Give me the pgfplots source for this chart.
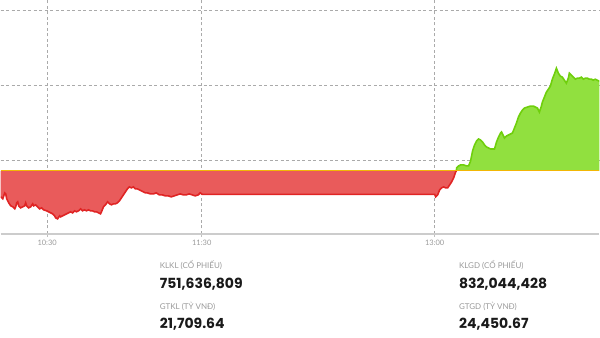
\documentclass[border=0pt]{standalone}
\usepackage{fontspec}
\setmainfont{Lato}
\newfontfamily\pop{Poppins}
\newfontfamily\lato{Lato}
\usepackage{pgfplots}
\pgfplotsset{compat=1.18}
\usepgfplotslibrary{fillbetween}
\definecolor{redfill}{HTML}{E95B5B}
\definecolor{redline}{HTML}{E02424}
\definecolor{greenfill}{HTML}{91E03F}
\definecolor{greenline}{HTML}{6FCF0C}
\definecolor{refline}{HTML}{F2B705}
\definecolor{gridc}{HTML}{AAAAAA}
\definecolor{labc}{HTML}{9A9A9A}
\definecolor{numc}{HTML}{1A1A1A}
\begin{document}
\begin{tikzpicture}
\begin{axis}[
  at={(0pt,0pt)}, anchor=south west,
  scale only axis, width=600pt, height=234pt,
  xmin=0, xmax=600, ymin=0, ymax=234,
  axis x line*=bottom, axis y line*=left,
  x axis line style={draw=black!20, line width=1.5pt},
  y axis line style={draw=none},
  xtick={46.5,201.5,435}, xticklabels={10:30,11:30,13:00},
  ytick={74,149,224}, yticklabels={},
  y tick style={draw=none},
  yticklabel style={overlay},
  xmajorgrids, ymajorgrids,
  major grid style={gridc, dash pattern=on 3pt off 2.5pt, line width=0.7pt},
  xtick align=outside, ytick align=inside, major tick length=3pt,
  x tick style={draw=black!25, line width=0.8pt},
  xticklabel style={font=\lato\fontsize{7.5}{9}\selectfont, text=labc},
]
\addplot[draw=redline, line width=1.6pt, name path=redl] coordinates {
(0,37) (2,35) (4,41) (5,40) (6,35) (8,31) (10,28) (12,27) (14,25) (15,27)
(16,31) (17,32) (18,28) (20,26) (22,27) (24,28) (25,31) (26,28) (28,26) (30,27)
(32,30) (33,28) (35,29) (37,27) (39,25) (41,26) (43,24) (46,23) (48,22) (50,21)
(52,20) (54,18) (55,16) (57,15) (59,18) (60,17) (62,18) (64,19) (66,20) (68,21)
(70,22) (72,21) (74,23) (76,22) (78,23) (80,25) (82,23) (84,24) (86,23) (88,24)
(90,23) (92,23) (94,22) (96,22) (98,21) (100,20) (101,22) (103,27) (105,29) (107,32)
(109,30) (111,29) (113,30) (115,30) (117,31) (119,33) (121,36) (123,39) (125,42) (127,45)
(129,47) (131,46) (133,47) (135,45) (137,45) (139,44) (141,43) (143,42) (145,41) (147,41)
(150,40) (153,40) (156,41) (159,39) (162,39) (165,38) (168,38) (171,37) (174,38) (177,39)
(180,40) (183,39) (186,39) (189,40) (192,39) (195,38) (198,39) (200,41) (202,39.5) (435,39.5)
(436,37) (438,39) (440,44) (442,46) (444,47) (446,46) (448,46) (450,49) (452,52) (454,56)
(456,62) (456.8,63)
};
\addplot[draw=none, name path=refa] coordinates {(0,63) (456.8,63)};
\addplot[draw=greenline, line width=1.6pt, name path=greenl] coordinates {
(456.8,63) (457,66) (459,68) (461,69) (464,69) (467,68) (469,68) (471,73) (473,83) (475,89)
(477,93) (479,95) (481,94) (483,92) (485,89) (487,87) (489,86) (491,85) (493,85) (495,85)
(497,92) (499,97) (501,101) (502,102) (504,98) (505,96) (507,98) (509,99) (511,100) (513,101)
(515,106) (517,111) (519,117) (521,121) (523,124) (525,126) (528,127) (531,128) (534,128) (536,127)
(538,126) (540,122) (542,128) (543,132) (545,137) (547,142) (549,145) (551,148) (553,155) (555,160)
(557,166) (559,161) (561,158) (563,157) (565,154) (567,151) (569,156) (570,161) (572,159) (574,157)
(576,155) (578,156) (580,156) (582,157) (584,155) (586,156) (588,156) (590,155) (592,155) (594,154)
(596,155) (598,154) (600,153)
};
\addplot[draw=none, name path=refb] coordinates {(456.8,63) (600,63)};
\addplot[fill=redfill, draw=none] fill between[of=redl and refa];
\addplot[fill=greenfill, draw=none] fill between[of=greenl and refb];
\addplot[draw=refline, line width=1.1pt] coordinates {(0,63) (600,63)};
\end{axis}
\begin{scope}[x=1pt,y=1pt]
\node[anchor=base west, inner sep=0pt, text=labc, font=\lato\fontsize{8}{9}\selectfont] at (159.3,-35.3) {KLKL (CỔ PHIẾU)};
\node[anchor=base west, inner sep=0pt, text=numc, font=\pop\bfseries\fontsize{14}{16}\selectfont] at (159.3,-54.5) {751,636,809};
\node[anchor=base west, inner sep=0pt, text=labc, font=\lato\fontsize{8}{9}\selectfont] at (159.3,-76) {GTKL (TỶ VNĐ)};
\node[anchor=base west, inner sep=0pt, text=numc, font=\pop\bfseries\fontsize{14}{16}\selectfont] at (159.3,-95) {21,709.64};
\node[anchor=base west, inner sep=0pt, text=labc, font=\lato\fontsize{8}{9}\selectfont] at (459.3,-35.3) {KLGD (CỔ PHIẾU)};
\node[anchor=base west, inner sep=0pt, text=numc, font=\pop\bfseries\fontsize{14}{16}\selectfont] at (459.3,-54.5) {832,044,428};
\node[anchor=base west, inner sep=0pt, text=labc, font=\lato\fontsize{8}{9}\selectfont] at (459.3,-76) {GTGD (TỶ VNĐ)};
\node[anchor=base west, inner sep=0pt, text=numc, font=\pop\bfseries\fontsize{14}{16}\selectfont] at (459.3,-95) {24,450.67};
\path (0,-104) rectangle (600,234);
\end{scope}
\end{tikzpicture}
\end{document}
